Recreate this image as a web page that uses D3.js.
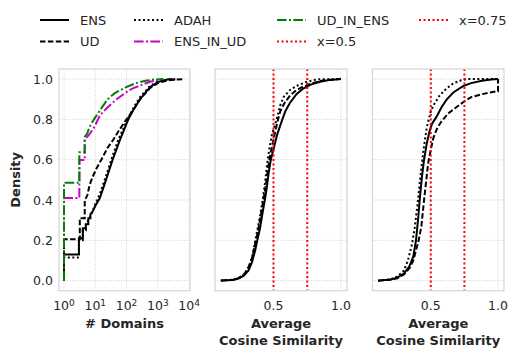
<!DOCTYPE html>
<html>
<head>
<meta charset="utf-8">
<script src="https://cdn.jsdelivr.net/npm/d3@7"></script>
<style>
  body { margin: 0; background: #fff; }
  svg { font-family: "DejaVu Sans", sans-serif; }
  .tick-label { fill: #262626; font-size: 12.5px; }
  .axis-title { fill: #262626; font-size: 13px; font-weight: bold; }
  .legend-text { fill: #262626; font-size: 13px; }
</style>
</head>
<body>
<svg id="chart" width="523" height="356"></svg>
<script>
// ---- data ----
const seriesNames = ['ENS', 'UD', 'ADAH', 'ENS_IN_UD', 'UD_IN_ENS'];

// panel 1: ECDF of number of domains (log x)
const domainsENS = [[1,0],[1,0.13],[3,0.13],[3,0.21],[4,0.21],[4,0.26],[5,0.26],[5,0.28],[6,0.28],[6,0.31],[7,0.31],[7,0.33],
  [8,0.34],[10,0.37],[14,0.41],[20,0.48],[36,0.60],[62,0.70],[114,0.80],[170,0.85],[270,0.90],[560,0.96],[1000,0.985],[2000,0.998],[3000,1.0]];
const domainsUD = [[1,0],[1,0.205],[3.2,0.205],[3.2,0.31],[4.6,0.31],[4.6,0.40],[5.5,0.42],[6.6,0.475],[8,0.51],[10.8,0.555],
  [15.6,0.60],[25,0.66],[38,0.70],[60,0.75],[100,0.80],[170,0.85],[270,0.90],[560,0.955],[1000,0.98],[2000,0.993],[4000,0.998],[7000,1.0]];
const domainsADAH = [[1,0],[1,0.115],[3,0.115],[3,0.2],[4,0.2],[4,0.25],[5,0.25],[5,0.28],[6,0.3],[8,0.34],[10,0.38],[14,0.43],
  [20,0.5],[36,0.62],[55,0.70],[100,0.79],[170,0.86],[270,0.91],[560,0.965],[1000,0.988],[2000,0.997],[4000,1.0]];
const domainsENSinUD = [[1,0],[1,0.41],[3.1,0.41],[3.1,0.598],[4.6,0.598],[4.6,0.70],[6,0.72],[7.5,0.74],[9.6,0.765],[14,0.82],
  [25,0.86],[48,0.90],[110,0.94],[165,0.955],[560,0.987],[1500,1.0]];
const domainsUDinENS = [[1,0],[1,0.485],[3.1,0.485],[3.1,0.637],[4.6,0.637],[4.6,0.714],[5.5,0.73],[6.5,0.76],[7.5,0.78],[10,0.81],
  [15.6,0.855],[25,0.9],[42,0.93],[98,0.96],[200,0.98],[400,0.992],[800,0.998],[1500,1.0]];

// panel 2: ECDF of average cosine similarity
const cosA_ENS = [[0.11,0],[0.2,0.003],[0.24,0.01],[0.28,0.025],[0.315,0.05],[0.34,0.09],[0.364,0.15],[0.38,0.2],[0.40,0.26],
  [0.42,0.34],[0.438,0.41],[0.45,0.46],[0.463,0.53],[0.48,0.6],[0.507,0.67],[0.525,0.72],[0.55,0.77],[0.587,0.84],[0.62,0.88],
  [0.67,0.925],[0.72,0.953],[0.78,0.974],[0.846,0.987],[0.92,0.996],[1.0,1.0]];
const cosA_UD = [[0.11,0],[0.2,0.004],[0.24,0.012],[0.28,0.03],[0.31,0.06],[0.34,0.11],[0.36,0.17],[0.38,0.23],[0.40,0.30],
  [0.42,0.38],[0.44,0.46],[0.46,0.56],[0.48,0.64],[0.50,0.70],[0.513,0.74],[0.53,0.79],[0.55,0.84],[0.58,0.88],[0.624,0.92],
  [0.67,0.945],[0.72,0.963],[0.78,0.978],[0.846,0.99],[0.92,0.997],[1.0,1.0]];
const cosA_ADAH = [[0.11,0],[0.2,0.005],[0.25,0.015],[0.29,0.035],[0.32,0.07],[0.34,0.11],[0.36,0.18],[0.38,0.25],[0.40,0.32],
  [0.42,0.40],[0.438,0.49],[0.451,0.57],[0.47,0.66],[0.49,0.73],[0.51,0.77],[0.525,0.805],[0.55,0.87],[0.574,0.91],[0.62,0.945],
  [0.674,0.967],[0.74,0.985],[0.797,0.995],[0.85,0.999],[1.0,1.0]];

// panel 3: ECDF of average cosine similarity (second set)
const cosB_ENS = [[0.108,0],[0.2,0.005],[0.25,0.015],[0.3,0.035],[0.34,0.07],[0.37,0.12],[0.39,0.2],[0.405,0.3],[0.42,0.42],
  [0.435,0.52],[0.45,0.6],[0.47,0.68],[0.49,0.74],[0.51,0.78],[0.54,0.81],[0.58,0.86],[0.62,0.9],[0.67,0.935],[0.74,0.965],
  [0.8,0.98],[0.88,0.992],[0.95,0.998],[1.0,1.0]];
const cosB_UD = [[0.108,0],[0.2,0.004],[0.25,0.012],[0.3,0.03],[0.34,0.06],[0.37,0.1],[0.39,0.15],[0.41,0.2],[0.43,0.27],
  [0.45,0.4],[0.47,0.52],[0.48,0.58],[0.5,0.65],[0.52,0.71],[0.55,0.76],[0.58,0.79],[0.63,0.83],[0.68,0.855],[0.75,0.89],
  [0.8,0.91],[0.88,0.925],[0.95,0.935],[1.0,0.94],[1.0,1.0]];
const cosB_ADAH = [[0.108,0],[0.2,0.006],[0.25,0.02],[0.3,0.05],[0.33,0.1],[0.36,0.18],[0.38,0.26],[0.40,0.37],[0.42,0.5],
  [0.446,0.65],[0.47,0.76],[0.5,0.84],[0.52,0.87],[0.567,0.92],[0.62,0.955],[0.666,0.978],[0.72,0.993],[0.765,1.0],[1.0,1.0]];

const refLines = [0.5, 0.75];
const yTicks = [0, 0.2, 0.4, 0.6, 0.8, 1.0];
const logTicks = [1, 10, 100, 1000, 10000];
const cosTicks = [0.5, 1.0];

// ---- styles per series ----
const styles = {
  'ENS':       { color: '#000', dash: null },
  'UD':        { color: '#000', dash: '5.5,2.4' },
  'ADAH':      { color: '#000', dash: '2,2.5' },
  'ENS_IN_UD': { color: '#cc00cc', dash: '9.6,2.4,2,2.4' },
  'UD_IN_ENS': { color: '#008000', dash: '9.6,2.4,2,2.4' },
  'x=0.5':     { color: '#ff0000', dash: '2,2.5' },
  'x=0.75':    { color: '#ff0000', dash: '2,2.5' }
};

const svg = d3.select('#chart');
const plotTop = 69, plotBottom = 290.7;
const y = d3.scaleLinear().domain([-0.05, 1.05]).range([plotBottom, plotTop]);

function frame(x, x0, x1, xTicks, showY) {
  const g = svg.append('g');
  // grid
  g.selectAll('.hgrid').data(yTicks).enter().append('line')
    .attr('x1', x0).attr('x2', x1)
    .attr('y1', d => y(d)).attr('y2', d => y(d))
    .attr('stroke', '#c8c8c8').attr('stroke-width', 0.9).attr('stroke-dasharray', '1,1.6');
  g.selectAll('.vgrid').data(xTicks).enter().append('line')
    .attr('x1', d => x(d)).attr('x2', d => x(d))
    .attr('y1', plotTop).attr('y2', plotBottom)
    .attr('stroke', '#c8c8c8').attr('stroke-width', 0.9).attr('stroke-dasharray', '1,1.6');
  // y tick labels
  if (showY) {
    g.selectAll('.ylab').data(yTicks).enter().append('text')
      .attr('class', 'tick-label')
      .attr('x', x0 - 6).attr('y', d => y(d)).attr('dy', '0.36em')
      .attr('text-anchor', 'end')
      .text(d => d3.format('.1f')(d));
  }
  return g;
}

function drawLine(g, x, data, name) {
  const st = styles[name];
  const line = d3.line().x(d => x(d[0])).y(d => y(d[1]));
  g.append('path')
    .datum(data)
    .attr('d', line)
    .attr('fill', 'none')
    .attr('stroke', st.color)
    .attr('stroke-width', 2)
    .attr('stroke-dasharray', st.dash);
}

function border(x0, x1) {
  svg.append('rect')
    .attr('x', x0).attr('y', plotTop)
    .attr('width', x1 - x0).attr('height', plotBottom - plotTop)
    .attr('fill', 'none').attr('stroke', '#d6d6d6').attr('stroke-width', 1.25);
}

// ---- panel 1 ----
const x1 = d3.scaleLog().domain([Math.pow(10, -0.16), Math.pow(10, 4.03)]).range([59, 190]);
const g1 = frame(x1, 59, 190, logTicks, true);
drawLine(g1, x1, domainsENS, 'ENS');
drawLine(g1, x1, domainsUD, 'UD');
drawLine(g1, x1, domainsADAH, 'ADAH');
drawLine(g1, x1, domainsENSinUD, 'ENS_IN_UD');
drawLine(g1, x1, domainsUDinENS, 'UD_IN_ENS');
border(59, 190);

const lt = g1.selectAll('.xlab').data(logTicks).enter().append('text')
  .attr('class', 'tick-label')
  .attr('x', d => x1(d)).attr('y', 310)
  .attr('text-anchor', 'middle');
lt.append('tspan').text('10');
lt.append('tspan').attr('dy', '-0.45em').attr('font-size', '9px').text(d => Math.round(Math.log10(d)));

svg.append('text').attr('class', 'axis-title')
  .attr('x', 124.5).attr('y', 328).attr('text-anchor', 'middle').text('# Domains');
svg.append('text').attr('class', 'axis-title')
  .attr('transform', `translate(20,${(plotTop + plotBottom) / 2}) rotate(-90)`)
  .attr('text-anchor', 'middle').text('Density');

// ---- panels 2 and 3 ----
function cosPanel(x0, x1px, sets) {
  const x = d3.scaleLinear().domain([0.0665, 1.0445]).range([x0, x1px]);
  const g = frame(x, x0, x1px, cosTicks, false);
  drawLine(g, x, sets[0], 'ENS');
  drawLine(g, x, sets[1], 'UD');
  drawLine(g, x, sets[2], 'ADAH');
  refLines.forEach((v, i) => {
    const st = styles[i === 0 ? 'x=0.5' : 'x=0.75'];
    g.append('line')
      .attr('x1', x(v)).attr('x2', x(v)).attr('y1', plotTop).attr('y2', plotBottom)
      .attr('stroke', st.color).attr('stroke-width', 2).attr('stroke-dasharray', st.dash);
  });
  border(x0, x1px);
  g.selectAll('.xlab').data(cosTicks).enter().append('text')
    .attr('class', 'tick-label')
    .attr('x', d => x(d)).attr('y', 310).attr('text-anchor', 'middle')
    .text(d => d3.format('.1f')(d));
  const cx = (x0 + x1px) / 2;
  svg.append('text').attr('class', 'axis-title')
    .attr('x', cx).attr('y', 328).attr('text-anchor', 'middle').text('Average');
  svg.append('text').attr('class', 'axis-title')
    .attr('x', cx).attr('y', 345).attr('text-anchor', 'middle').text('Cosine Similarity');
}
cosPanel(215, 347, [cosA_ENS, cosA_UD, cosA_ADAH]);
cosPanel(372.5, 504, [cosB_ENS, cosB_UD, cosB_ADAH]);

// ---- legend ----
const legendItems = [
  { name: 'ENS', col: 0, row: 0 }, { name: 'UD', col: 0, row: 1 },
  { name: 'ADAH', col: 1, row: 0 }, { name: 'ENS_IN_UD', col: 1, row: 1 },
  { name: 'UD_IN_ENS', col: 2, row: 0 }, { name: 'x=0.5', col: 2, row: 1 },
  { name: 'x=0.75', col: 3, row: 0 }
];
const colX = [40, 134, 277, 419];
const rowY = [20, 41.5];
const leg = svg.append('g');
legendItems.forEach(d => {
  const st = styles[d.name];
  const lx = colX[d.col], ly = rowY[d.row];
  leg.append('line')
    .attr('x1', lx).attr('x2', lx + 29).attr('y1', ly).attr('y2', ly)
    .attr('stroke', st.color).attr('stroke-width', 2).attr('stroke-dasharray', st.dash);
  leg.append('text').attr('class', 'legend-text')
    .attr('x', lx + 40).attr('y', ly).attr('dy', '0.36em').text(d.name);
});
</script>
</body>
</html>
